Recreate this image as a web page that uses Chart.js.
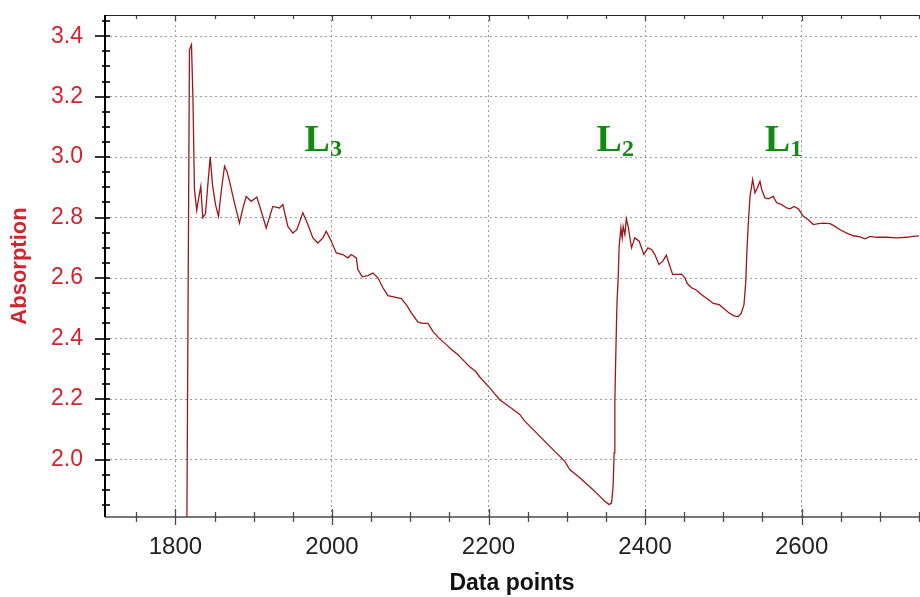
<!DOCTYPE html>
<html>
<head>
<meta charset="utf-8">
<script src="https://cdn.jsdelivr.net/npm/chart.js@4.4.1/dist/chart.umd.min.js"></script>
<style>
  html, body { margin: 0; padding: 0; background: #fff; }
</style>
</head>
<body>
<canvas id="absChart" width="920" height="597"></canvas>
<script>
// values
const dataPoints = [
  1814, 1817.9, 1820.5, 1822.4, 1824.3, 1827.2, 1829.4, 1832.4, 1834.9, 1838.4,
  1840.9, 1844.4, 1847.3, 1851.2, 1855.0, 1858.8, 1862.7, 1865.9, 1869.1, 1875.4,
  1881.8, 1885.7, 1890.4, 1896.8, 1904.0, 1909.6, 1916.0, 1924.4, 1933.0, 1937.2,
  1943.6, 1950.0, 1955.1, 1962.8, 1969.2, 1975.6, 1982.0, 1988.4, 1992.7, 1999.1,
  2005.5, 2013.9, 2020.3, 2024.7, 2031.1, 2033.1, 2038.7, 2045.9, 2052.3, 2058.7,
  2065.1, 2071.5, 2080.1, 2088.6, 2095.0, 2101.4, 2109.9, 2116.2, 2122.6, 2129.0,
  2137.6, 2146.2, 2152.6, 2160.6, 2168.3, 2176.0, 2183.6, 2188.8, 2201.5, 2214.3,
  2227.1, 2239.9, 2246.3, 2259.1, 2271.9, 2284.7, 2297.5, 2303.8, 2316.6, 2329.4,
  2340.0, 2348.6, 2354.1, 2357.2, 2359.2, 2360.5, 2361.4, 2362.3, 2363.6, 2364.3,
  2365.6, 2366.9, 2369.1, 2370.7, 2372.0, 2374.2, 2376.1, 2378.4, 2382.7, 2386.9,
  2392.5, 2398.5, 2403.6, 2408.7, 2412.5, 2417.7, 2422.8, 2427.2, 2430.5, 2435.2,
  2440.3, 2446.7, 2450.9, 2453.9, 2459.5, 2465.9, 2472.3, 2480.7, 2487.1, 2494.8,
  2499.9, 2506.3, 2512.7, 2518.7, 2522.8, 2526.4, 2528.6, 2530.2, 2532.2, 2534.1,
  2537.5, 2540.4, 2543.4, 2546.8, 2549.0, 2553.2, 2557.4, 2563.8, 2568.1, 2574.6,
  2580.9, 2585.2, 2590.3, 2595.8, 2602.2, 2608.6, 2615.0, 2621.4, 2627.8, 2636.3,
  2642.7, 2649.1, 2657.7, 2666.1, 2674.7, 2681.1, 2687.5, 2696.0, 2708.8, 2721.6,
  2734.4, 2742.8, 2751
];
const absorption = [
  1.50, 3.355, 3.372, 3.190, 2.893, 2.824, 2.860, 2.903, 2.800, 2.813,
  2.893, 3.001, 2.909, 2.843, 2.804, 2.893, 2.970, 2.952, 2.920, 2.849,
  2.782, 2.826, 2.870, 2.854, 2.868, 2.821, 2.766, 2.837, 2.832, 2.843,
  2.771, 2.749, 2.760, 2.816, 2.777, 2.733, 2.716, 2.733, 2.755, 2.722,
  2.683, 2.678, 2.667, 2.678, 2.667, 2.628, 2.604, 2.608, 2.617, 2.601,
  2.568, 2.542, 2.537, 2.532, 2.512, 2.485, 2.454, 2.450, 2.450, 2.424,
  2.399, 2.380, 2.364, 2.347, 2.327, 2.307, 2.291, 2.273, 2.237, 2.198,
  2.174, 2.149, 2.127, 2.094, 2.060, 2.027, 1.994, 1.967, 1.940, 1.910,
  1.884, 1.862, 1.851, 1.857, 1.912, 2.022, 2.188, 2.308, 2.463, 2.529,
  2.595, 2.705, 2.766, 2.733, 2.771, 2.744, 2.796, 2.771, 2.700, 2.733,
  2.722, 2.678, 2.700, 2.694, 2.678, 2.645, 2.656, 2.676, 2.648, 2.612,
  2.612, 2.613, 2.601, 2.582, 2.568, 2.560, 2.545, 2.529, 2.516, 2.512,
  2.501, 2.487, 2.476, 2.472, 2.483, 2.512, 2.585, 2.694, 2.793, 2.870,
  2.926, 2.882, 2.898, 2.920, 2.893, 2.865, 2.862, 2.870, 2.849, 2.843,
  2.832, 2.829, 2.837, 2.829, 2.804, 2.793, 2.777, 2.780, 2.782, 2.780,
  2.771, 2.760, 2.749, 2.740, 2.736, 2.730, 2.738, 2.735, 2.735, 2.733,
  2.735, 2.738, 2.740
];
const xMajor = [1800, 2000, 2200, 2400, 2600];
const yMajor = [2.0, 2.2, 2.4, 2.6, 2.8, 3.0, 3.2, 3.4];
const peakNames = ['L', 'L', 'L'];
const peakSubs = ['3', '2', '1'];
const peakX = [1965, 2338, 2553];
const peakY = [3.019, 3.019, 3.019];

const xMinor = [];
for (let v = 1750; v <= 2750; v += 50) xMinor.push(v);
const yMinor = [];
for (let k = 37; k <= 69; k++) yMinor.push(Math.round(k * 5) / 100);

const isMajorY = v => yMajor.some(m => Math.abs(m - v) < 1e-6);
const RED = '#d2232e';

// the chart area must not shrink for half tick labels at the ends
function noEdgePadding(s) {
  s.paddingTop = 0; s.paddingBottom = 0;
  s.paddingLeft = 0; s.paddingRight = 0;
}

// axis lines and tick marks on both sides of the axes, like the original plot
const axesPlugin = {
  id: 'axes',
  afterDatasetsDraw(chart) {
    const { ctx, chartArea: a, scales: { x, y } } = chart;
    ctx.save();
    // bottom axis
    ctx.strokeStyle = '#4a4a4a';
    ctx.lineWidth = 1.5;
    ctx.beginPath();
    ctx.moveTo(a.left, a.bottom); ctx.lineTo(a.right, a.bottom);
    ctx.stroke();
    ctx.lineWidth = 1.3;
    xMinor.forEach(v => {
      const px = Math.round(x.getPixelForValue(v)) + 0.5;
      const big = xMajor.includes(v);
      ctx.beginPath();
      ctx.moveTo(px, a.bottom - (big ? 8 : 5));
      ctx.lineTo(px, a.bottom + (big ? 8 : 5));
      ctx.stroke();
      // top axis
      ctx.beginPath();
      ctx.moveTo(px, a.top);
      ctx.lineTo(px, a.top + (big ? 6 : 4));
      ctx.stroke();
    });
    // top line
    ctx.strokeStyle = '#222';
    ctx.lineWidth = 1;
    ctx.beginPath();
    ctx.moveTo(a.left, a.top + 0.5); ctx.lineTo(a.right, a.top + 0.5);
    ctx.stroke();
    // left axis
    ctx.strokeStyle = '#000';
    ctx.lineWidth = 2;
    ctx.beginPath();
    ctx.moveTo(a.left, a.top); ctx.lineTo(a.left, a.bottom);
    ctx.stroke();
    ctx.lineWidth = 1.6;
    yMinor.forEach(v => {
      const py = Math.round(y.getPixelForValue(v));
      const big = isMajorY(v);
      ctx.beginPath();
      ctx.moveTo(a.left - (big ? 10 : 3), py);
      ctx.lineTo(a.left + 5, py);
      ctx.stroke();
    });
    ctx.restore();
  }
};

// L1 / L2 / L3 markers
const peakPlugin = {
  id: 'peaks',
  afterDatasetsDraw(chart) {
    const { ctx, scales: { x, y } } = chart;
    ctx.save();
    ctx.fillStyle = '#128a12';
    ctx.textBaseline = 'alphabetic';
    ctx.textAlign = 'left';
    peakNames.forEach((name, i) => {
      const px = x.getPixelForValue(peakX[i]);
      const py = y.getPixelForValue(peakY[i]);
      ctx.font = 'bold 38px "Liberation Serif", "Times New Roman", serif';
      ctx.fillText(name, px, py);
      const w = ctx.measureText(name).width;
      ctx.font = 'bold 24px "Liberation Serif", "Times New Roman", serif';
      ctx.fillText(peakSubs[i], px + w, py + 5);
    });
    ctx.restore();
  }
};

const ctx = document.getElementById('absChart').getContext('2d');
new Chart(ctx, {
  type: 'line',
  data: {
    datasets: [{
      data: dataPoints.map((v, i) => ({ x: v, y: absorption[i] })),
      borderColor: '#a01519',
      borderWidth: 1.3,
      pointRadius: 0,
      tension: 0
    }]
  },
  options: {
    responsive: false,
    animation: false,
    layout: { padding: { top: 15, right: 1, left: 0, bottom: 0 } },
    plugins: { legend: { display: false }, tooltip: { enabled: false } },
    scales: {
      x: {
        type: 'linear',
        min: 1710,
        max: 2750,
        afterBuildTicks: s => { s.ticks = xMinor.map(v => ({ value: v })); },
        afterFit: s => { s.height = 80; noEdgePadding(s); },
        grid: {
          drawTicks: false,
          color: c => (c.tick && xMajor.includes(c.tick.value)) ? '#9a9a9a' : 'rgba(0,0,0,0)'
        },
        border: { display: false, dash: [2, 3] },
        ticks: {
          autoSkip: false,
          maxRotation: 0,
          padding: 16,
          color: '#222',
          font: { family: '"Liberation Sans", Arial, sans-serif', size: 24 },
          callback: v => xMajor.includes(v) ? String(v) : ''
        },
        title: {
          display: true,
          text: 'Data points',
          color: '#111',
          padding: { top: 0, bottom: 0 },
          font: { family: '"Liberation Sans", Arial, sans-serif', size: 23, weight: 'bold' }
        }
      },
      y: {
        min: 1.81,
        max: 3.47,
        afterBuildTicks: s => { s.ticks = yMinor.map(v => ({ value: v })); },
        afterFit: s => { s.width = 105; noEdgePadding(s); },
        grid: {
          drawTicks: false,
          color: c => (c.tick && isMajorY(c.tick.value)) ? '#9a9a9a' : 'rgba(0,0,0,0)'
        },
        border: { display: false, dash: [2, 3] },
        ticks: {
          autoSkip: false,
          padding: 22,
          color: RED,
          font: { family: '"Liberation Sans", Arial, sans-serif', size: 23 },
          callback: v => isMajorY(v) ? v.toFixed(1) : ''
        },
        title: {
          display: true,
          text: 'Absorption',
          color: RED,
          padding: { top: 7, bottom: 0 },
          font: { family: '"Liberation Sans", Arial, sans-serif', size: 22, weight: 'bold' }
        }
      }
    }
  },
  plugins: [axesPlugin, peakPlugin]
});
</script>
</body>
</html>
